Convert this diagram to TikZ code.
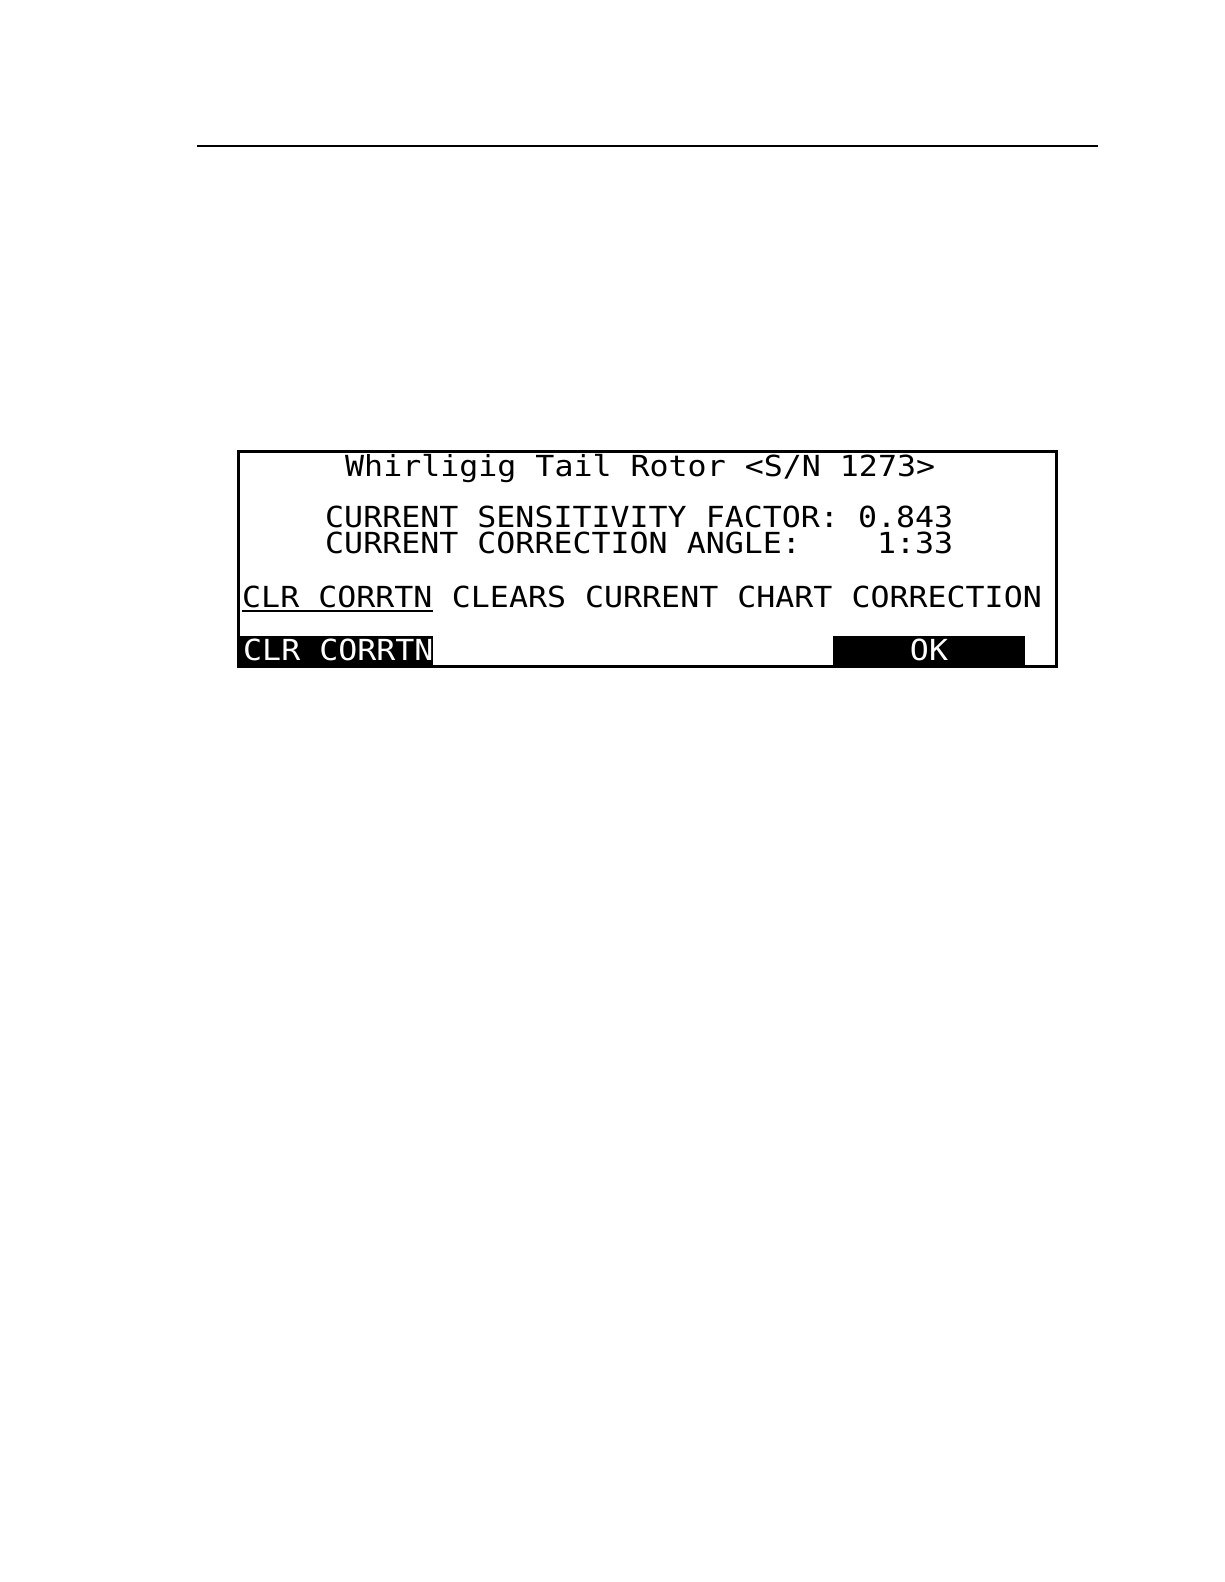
\documentclass[tikz,border=0pt]{standalone}
\usepackage{fontspec}
\newfontfamily\lcd[FakeStretch=1.09]{DejaVu Sans Mono}
\begin{document}
\begin{tikzpicture}[x=1pt,y=-1pt,
  lcdtext/.style={anchor=base west, inner sep=0pt, font=\lcd\fontsize{29}{29}\selectfont},
  keytext/.style={lcdtext, text=white},
  keybar/.style={fill=black, draw=none},
  frame/.style={draw=black, line width=3pt},
  rule/.style={draw=black, line width=2.5pt}]
\useasboundingbox (0,0) rectangle (1224,1582);
\fill[white] (0,0) rectangle (1224,1582);
% header rule
\coordinate (ruleL) at (197,146);
\coordinate (ruleR) at (1098,146);
\draw[rule] (ruleL) -- (ruleR);
% soft key bars
\fill[keybar] (237,636) rectangle (433,667);
\fill[keybar] (833,636) rectangle (1025,667);
% screen frame
\draw[frame] (238.5,451.5) rectangle (1056.5,666);
% texts
\node[lcdtext] (title) at (345,476) {Whirligig Tail Rotor <S/N 1273>};
\node[lcdtext] (sens) at (325,527) {CURRENT SENSITIVITY FACTOR: 0.843};
\node[lcdtext] (angle) at (325,553) {CURRENT CORRECTION ANGLE:\phantom{0000}1:33};
\node[lcdtext] (clr) at (242,607) {CLR CORRTN};
\node[lcdtext, xshift=19pt] (clears) at (clr.base east) {CLEARS CURRENT CHART CORRECTION};
\draw[line width=2pt] ([yshift=-3.5pt]clr.base west) -- ([yshift=-3.5pt]clr.base east);
\node[keytext] (key1) at (243,660) {CLR CORRTN};
\node[keytext, anchor=base] (key2) at (929,660) {OK};
\end{tikzpicture}
\end{document}
